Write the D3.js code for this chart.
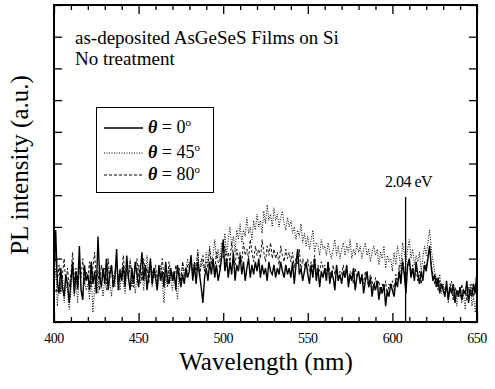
<!DOCTYPE html>
<html><head><meta charset="utf-8">
<script src="https://cdn.jsdelivr.net/npm/d3@7"></script>
<style>body{margin:0;background:#fff}svg{display:block}</style>
</head><body><svg id="c" width="495" height="389"></svg>
<script>
const wlStart = 400, wlStep = 1;
const solid0 = [1.4,2.9,1.2,0.9,1.7,1.1,0.8,1.5,1.2,0.6, 1.3,1.9,0.9,1.6,1.1,2.4,1.0,0.7,1.8,1.3, 1.5,1.0,1.9,1.2,1.6,0.9,2.7,1.4,1.1,1.7, 1.2,2.0,1.0,1.5,1.8,1.1,1.4,2.3,1.0,1.6, 1.3,1.8,1.1,2.1,1.4,1.0,1.7,1.2,1.9,1.5, 1.1,1.6,2.2,1.3,1.8,1.0,1.5,2.0,1.2,1.7, 1.4,1.0,1.8,1.3,1.6,1.1,1.9,1.4,1.2,1.7, 1.3,1.6,1.0,1.8,1.4,1.1,1.5,1.2,1.7,1.4, 1.6,2.1,1.3,1.8,1.2,1.9,1.5,1.1,0.6,1.4, 1.7,1.3,1.9,1.5,2.0,1.4,1.8,1.3,1.6,2.0, 2.6,1.6,2.0,1.4,1.9,1.5,2.2,1.3,1.8,1.6, 2.1,1.5,1.9,1.3,1.7,2.0,1.4,1.8,1.5,1.9, 1.6,2.0,1.4,1.8,1.5,1.7,1.3,1.9,1.6,1.5, 1.8,1.4,1.7,1.5,1.9,1.6,1.4,1.8,1.5,1.7, 1.4,1.9,1.2,1.8,2.3,1.5,1.7,1.3,1.6,1.9, 1.5,1.2,1.8,1.4,2.0,1.3,1.7,1.1,1.6,1.4, 1.7,1.3,1.9,1.2,1.6,1.4,1.0,1.8,1.3,1.5, 1.2,1.6,1.4,1.8,1.1,1.5,1.3,1.7,1.0,1.4, 1.6,1.2,1.5,0.9,1.3,1.6,1.1,1.4,0.8,1.2, 1.0,1.3,0.7,1.1,0.9,1.2,0.5,1.0,0.8,1.2, 1.0,0.8,1.3,1.1,1.6,1.2,1.9,1.5,0.9,1.8, 2.0,1.4,1.7,1.3,1.9,1.5,1.2,1.6,1.3,1.8, 1.6,2.0,2.4,1.7,1.3,1.5,1.1,1.4,0.9,1.2, 1.0,0.8,1.3,0.7,1.1,0.9,1.2,0.6,1.0,0.8, 1.1,0.7,1.0,0.9,1.3,0.6,1.0,0.8,1.2,0.9, 1.6];
const dotted45 = [1.1,1.7,0.5,1.3,0.9,1.5,0.6,1.2,1.0,0.4, 1.0,1.6,0.8,1.3,0.6,1.9,1.1,0.7,1.4,1.0, 1.2,0.7,1.6,0.3,1.1,1.5,0.9,1.8,1.2,0.8, 1.4,1.0,1.7,1.2,0.8,1.5,1.1,1.9,1.3,1.0, 1.6,1.2,0.9,1.7,1.3,2.0,1.1,1.5,0.9,1.4, 1.8,1.2,1.6,1.0,1.5,2.1,1.3,1.7,1.1,1.4, 1.6,1.0,1.4,1.8,1.2,0.6,1.5,1.1,1.7,1.3, 1.0,1.5,1.2,0.7,1.6,1.3,1.9,1.4,1.7,2.0, 1.6,2.1,1.4,1.9,1.7,2.3,1.5,2.0,1.8,1.6, 2.2,1.8,2.4,1.9,2.1,2.6,2.0,2.3,1.9,2.5, 2.3,2.8,2.1,2.6,3.0,2.4,2.7,2.2,2.9,2.6, 3.1,2.5,2.9,2.7,3.3,2.8,3.0,2.6,3.2,2.9, 3.4,3.0,3.2,2.8,3.5,3.1,3.7,3.2,3.4,3.0, 3.6,3.2,3.4,3.0,3.3,3.5,3.1,2.9,3.3,3.0, 3.2,2.8,3.0,2.6,2.9,2.7,3.1,2.5,2.8,2.4, 2.7,2.3,2.6,2.9,2.2,2.5,2.4,2.1,2.6,2.3, 2.4,2.1,2.5,2.2,2.0,2.3,2.6,2.1,2.4,2.0, 2.3,2.5,2.1,2.4,2.2,2.6,2.0,2.3,2.1,2.5, 2.2,2.4,2.0,2.3,2.5,2.1,2.3,1.9,2.2,2.4, 2.1,2.3,1.8,2.2,2.0,2.4,1.7,2.1,1.9,2.0, 1.6,2.2,1.8,2.4,2.1,1.7,2.5,2.2,1.9,2.3, 2.6,2.0,2.3,1.8,2.1,1.9,2.2,1.6,2.0,2.4, 2.1,2.5,2.9,2.3,1.9,1.6,1.4,1.1,1.5,0.9, 1.2,0.8,1.1,0.6,1.0,1.3,0.7,1.0,0.5,0.9, 1.1,0.6,0.9,0.4,1.0,0.7,1.2,0.5,0.8,0.3, 1.0];
const dashed80 = [1.6,2.1,1.3,1.8,1.0,1.5,2.0,1.2,1.7,1.1, 1.5,2.2,1.3,1.7,1.0,1.8,1.4,2.0,1.2,1.6, 1.4,1.9,1.1,1.7,2.2,1.3,1.6,1.0,1.8,1.5, 1.7,1.2,2.0,1.4,1.8,1.1,1.6,1.9,1.3,1.7, 1.5,2.1,1.2,1.8,1.4,1.9,1.6,1.1,1.7,2.0, 1.4,1.8,1.3,2.0,1.5,1.7,1.2,1.9,1.6,1.4, 1.8,1.3,1.7,1.5,2.0,1.4,1.6,1.2,1.9,1.5, 1.6,1.3,1.8,1.5,1.7,1.2,1.9,1.6,1.4,1.8, 1.7,2.0,1.5,1.9,1.6,2.2,1.4,1.8,2.1,1.6, 1.9,1.7,2.3,1.8,2.0,1.6,2.2,1.9,1.7,2.1, 2.0,2.4,1.8,2.2,1.9,2.5,2.1,1.8,2.3,2.0, 2.2,1.9,2.5,2.1,2.3,2.0,2.6,2.2,1.9,2.4, 2.1,2.3,2.0,2.6,2.2,1.9,2.4,2.1,2.5,2.0, 2.3,2.0,2.2,1.8,2.4,2.1,1.9,2.3,2.0,2.2, 1.9,2.2,1.7,2.0,1.8,2.3,1.6,2.0,1.8,1.7, 2.0,1.6,1.9,1.7,2.1,1.5,1.8,1.6,1.9,1.7, 1.8,1.5,1.9,1.6,1.4,1.8,1.5,1.7,1.3,1.6, 1.5,1.8,1.4,1.7,1.3,1.6,1.5,1.2,1.7,1.4, 1.6,1.3,1.5,1.2,1.6,1.4,1.1,1.5,1.3,1.0, 1.4,1.1,1.3,0.9,1.2,1.0,1.3,0.8,1.2,1.1, 1.3,1.0,1.5,1.2,1.8,1.4,2.0,1.6,1.3,1.7, 1.9,1.5,1.8,1.4,1.7,1.3,1.6,1.2,1.5,1.9, 1.7,2.1,2.3,1.8,1.5,1.2,1.4,1.0,1.3,1.1, 1.2,0.9,1.1,0.8,1.2,1.0,0.7,1.1,0.9,1.0, 0.8,1.2,0.9,1.0,0.7,1.1,0.9,1.2,0.8,1.0, 1.7];
const xTicks = [400,450,500,550,600,650];
const seriesNames = ["0","45","80"];
const markerWl = 607.8, markerLabel = "2.04 eV";
const title1 = "as-deposited AsGeSeS Films on Si", title2 = "No treatment";

const svg = d3.select("#c").attr("font-family","Liberation Serif");
const L=54, R=477, T=5, B=322;
const x = d3.scaleLinear().domain([400,650]).range([L,R]);
const y = d3.scaleLinear().domain([0,10]).range([B,T]);
const line = d3.line().x((d,i)=>x(wlStart+i*wlStep)).y(d=>y(d));

const styles = [
  {data:solid0, dash:null, w:1.4},
  {data:dotted45, dash:"1,1.5", w:1},
  {data:dashed80, dash:"3,2", w:0.9}
];
const g = svg.append("g");
[styles[1],styles[2],styles[0]].forEach(s=>{
  g.append("path").attr("d",line(s.data)).attr("fill","none").attr("stroke","#000")
   .attr("stroke-width",s.w).attr("stroke-dasharray",s.dash);
});

// axes (inward ticks)
const minor = d3.range(400,651,10);
svg.append("g").attr("transform",`translate(0,${B})`)
  .call(d3.axisBottom(x).tickValues(minor).tickSizeOuter(0).tickFormat(""))
  .call(a=>a.selectAll(".tick line").attr("y2",d=>d%50===0?-9:-5).attr("stroke-width",1.3))
  .call(a=>a.select(".domain").remove());
svg.append("g").attr("transform",`translate(0,${T})`)
  .call(d3.axisTop(x).tickValues(minor).tickSizeOuter(0).tickFormat(""))
  .call(a=>a.selectAll(".tick line").attr("y2",d=>d%50===0?9:5).attr("stroke-width",1.3))
  .call(a=>a.select(".domain").remove());
svg.append("g").attr("transform",`translate(${L},0)`)
  .call(d3.axisLeft(y).ticks(10).tickSizeOuter(0).tickFormat(""))
  .call(a=>a.selectAll(".tick line").attr("x2",8).attr("stroke-width",1.3))
  .call(a=>a.select(".domain").remove());
svg.append("g").attr("transform",`translate(${R},0)`)
  .call(d3.axisRight(y).ticks(10).tickSizeOuter(0).tickFormat(""))
  .call(a=>a.selectAll(".tick line").attr("x2",-8).attr("stroke-width",1.3))
  .call(a=>a.select(".domain").remove());
svg.append("rect").attr("x",L).attr("y",T).attr("width",R-L).attr("height",B-T)
  .attr("fill","none").attr("stroke","#000").attr("stroke-width",2);

// tick labels
svg.append("g").selectAll("text").data(xTicks).join("text")
  .attr("x",d=>x(d)).attr("y",343).attr("text-anchor","middle")
  .attr("font-size",14).attr("letter-spacing",-0.5).text(d=>d);

// axis titles
svg.append("text").attr("x",266).attr("y",370).attr("text-anchor","middle")
  .attr("font-size",25).text("Wavelength (nm)");
svg.append("text").attr("transform","translate(28,165) rotate(-90)").attr("text-anchor","middle")
  .attr("font-size",25).text("PL intensity (a.u.)");

// titles
svg.append("text").attr("x",75).attr("y",44).attr("font-size",19).text(title1);
svg.append("text").attr("x",75).attr("y",65).attr("font-size",19).text(title2);

// marker
svg.append("line").attr("x1",x(markerWl)).attr("x2",x(markerWl)).attr("y1",197).attr("y2",B)
  .attr("stroke","#000").attr("stroke-width",1.3);
svg.append("text").attr("x",x(markerWl)+3).attr("y",187).attr("text-anchor","middle")
  .attr("font-size",16).attr("letter-spacing",-0.5).text(markerLabel);

// legend
svg.append("rect").attr("x",96.5).attr("y",107.5).attr("width",117).attr("height",85)
  .attr("fill","#fff").attr("stroke","#000").attr("stroke-width",1);
const rows=[128,153,175];
seriesNames.forEach((n,i)=>{
  const s=styles[i];
  svg.append("line").attr("x1",104).attr("x2",143).attr("y1",rows[i]).attr("y2",rows[i])
    .attr("stroke","#000").attr("stroke-width",i===0?1.3:1).attr("stroke-dasharray",s.dash);
  const t=svg.append("text").attr("x",148).attr("y",rows[i]+5).attr("font-size",18);
  t.append("tspan").attr("font-weight","bold").attr("font-style","italic").text("θ");
  t.append("tspan").text(" = "+n);
  t.append("tspan").attr("font-size",11).attr("dy",-7).text("o");
});
</script></body></html>
